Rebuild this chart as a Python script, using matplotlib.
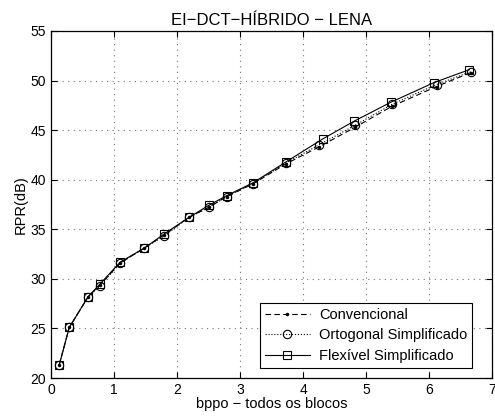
import matplotlib
matplotlib.use("Agg")
import matplotlib.pyplot as plt
import matplotlib.ticker as mticker

plt.rcParams["font.family"] = ["Liberation Sans", "DejaVu Sans"]

# bits per pixel (all blocks) vs PSNR-like RPR in dB
bpp_conv = [0.13, 0.29, 0.59, 0.78, 1.10, 1.48, 1.79, 2.19, 2.50, 2.79, 3.21, 3.73, 4.25, 4.83, 5.41, 6.12, 6.66]
rpr_conv = [21.3, 25.1, 28.2, 29.4, 31.6, 33.1, 34.4, 36.2, 37.2, 38.3, 39.6, 41.6, 43.3, 45.3, 47.4, 49.4, 50.8]

bpp_orto = [0.13, 0.29, 0.59, 0.78, 1.10, 1.48, 1.79, 2.19, 2.50, 2.79, 3.21, 3.73, 4.25, 4.83, 5.41, 6.12, 6.66]
rpr_orto = [21.3, 25.1, 28.2, 29.3, 31.6, 33.1, 34.3, 36.2, 37.2, 38.3, 39.6, 41.7, 43.5, 45.5, 47.6, 49.6, 50.9]

bpp_flex = [0.13, 0.29, 0.59, 0.78, 1.10, 1.48, 1.79, 2.19, 2.50, 2.79, 3.21, 3.73, 4.31, 4.81, 5.39, 6.08, 6.64]
rpr_flex = [21.3, 25.1, 28.2, 29.5, 31.7, 33.1, 34.5, 36.2, 37.4, 38.4, 39.7, 41.8, 44.1, 45.9, 47.8, 49.8, 51.1]

fig = plt.figure(figsize=(4.95, 4.17), dpi=100)
ax = fig.add_axes([0.103, 0.0935, 0.891, 0.8322])

ax.plot(bpp_conv, rpr_conv, color="k", linestyle=(0, (5, 3)), linewidth=0.8,
        marker=".", markersize=3, label="Convencional")
ax.plot(bpp_orto, rpr_orto, color="k", linestyle=":", linewidth=0.8,
        marker="o", markersize=6, markerfacecolor="none", markeredgewidth=0.8,
        label="Ortogonal Simplificado")
ax.plot(bpp_flex, rpr_flex, color="k", linestyle="-", linewidth=0.8,
        marker="s", markersize=5.5, markerfacecolor="none", markeredgewidth=0.8,
        label="Flexível Simplificado")

ax.set_xlim(0, 7)
ax.set_ylim(20, 55)
ax.xaxis.set_major_locator(mticker.MultipleLocator(1))
ax.yaxis.set_major_locator(mticker.MultipleLocator(5))
ax.grid(True, color="0.45", linestyle=(0, (1, 4)), linewidth=0.8)
ax.tick_params(direction="in", top=True, right=True, labelsize=10, length=4, width=0.8)
for s in ax.spines.values():
    s.set_linewidth(0.9)

ax.set_title("EI\u2212DCT\u2212HÍBRIDO \u2212 LENA", fontsize=12, pad=4)
ax.set_xlabel("bppo \u2212 todos os blocos", fontsize=10.5, labelpad=0)
ax.set_ylabel("RPR(dB)", fontsize=10.5, labelpad=2)

leg = ax.legend(loc="lower right", bbox_to_anchor=(0.955, 0.029), borderaxespad=0,
                fontsize=10.5, fancybox=False, framealpha=1, edgecolor="k",
                borderpad=0.35, labelspacing=0.45, handlelength=3.1, handletextpad=0.6)
leg.get_frame().set_linewidth(0.8)

fig.savefig("out.png", dpi=100)
